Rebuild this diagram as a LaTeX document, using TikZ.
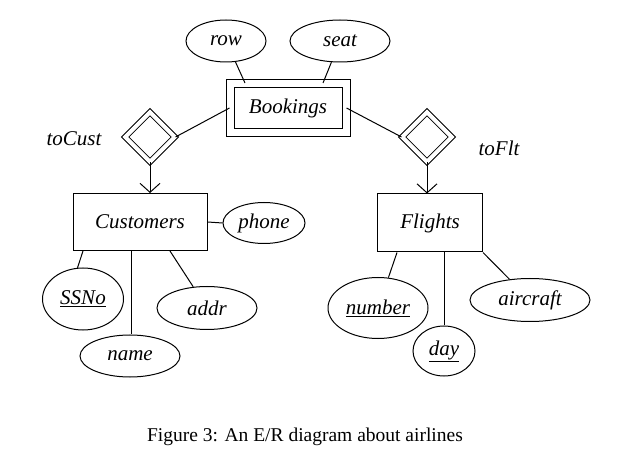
\documentclass[tikz,border=0pt]{standalone}
\usepackage{fontspec}
\setmainfont{Liberation Serif}
\usetikzlibrary{shapes.geometric,arrows.meta}

\tikzset{
  attr/.style={ellipse, draw, line width=1pt, inner sep=0pt},
  entity/.style={rectangle, draw, line width=1pt, minimum width=134pt, minimum height=57pt},
  rel/.style={diamond, draw, double, double distance=4pt, line width=1pt, minimum width=50pt, minimum height=50pt, inner sep=0pt},
  lbl/.style={font=\fontsize{21}{25}\selectfont\itshape},
  isa/.style={-{Straight Barb[length=9pt, width=20pt]}}
}

\begin{document}
\begin{tikzpicture}[x=1pt, y=-1pt, lbl, line width=1pt]
  \useasboundingbox (0,0) rectangle (619,473);
  % Bookings
  \node[rectangle, draw, double, double distance=7pt, minimum width=116pt, minimum height=49pt] (book) at (288,108) {Bookings};
  \node[attr, minimum width=80pt, minimum height=42pt] (row) at (226,41) {row};
  \node[attr, minimum width=100pt, minimum height=42pt] (seat) at (340,41) {seat};
  \draw (row) -- (book.north west -| 245,0);
  \draw (seat) -- (book.north east -| 323,0);
  % Relationships
  \node[rel] (tocust) at (150,137) {};
  \node at (74,139) {toCust};
  \node[rel] (toflt) at (427,137) {};
  \node at (499,148) {toFlt};
  \draw (tocust.east) -- (book.west |- 0,108);
  \draw (toflt.west) -- (book.east |- 0,108);
  % Customers
  \node[entity] (cust) at (140,222) {Customers};
  \node[attr, minimum width=82pt, minimum height=41pt] (phone) at (264,223) {phone};
  \node[attr, minimum width=81pt, minimum height=62pt] (ssno) at (83,299) {\underline{SSNo}};
  \node[attr, minimum width=100pt, minimum height=42pt] (name) at (130,356) {name};
  \node[attr, minimum width=100pt, minimum height=43pt] (addr) at (207,308) {addr};
  \draw (cust.east) -- (phone.west);
  \draw (cust.south -| 83,0) -- (ssno.100);
  \draw (cust.south -| 131,0) -- (name.north -| 131,0);
  \draw (cust.south -| 170,0) -- (addr);
  % Flights
  \node[entity, minimum width=105pt, minimum height=58pt] (flt) at (430,223) {Flights};
  \node[attr, minimum width=100pt, minimum height=61pt] (num) at (378,308) {\underline{number}};
  \node[attr, minimum width=62pt, minimum height=50pt] (day) at (444,351) {\underline{day}};
  \node[attr, minimum width=120pt, minimum height=43pt] (craft) at (530,300) {aircraft};
  \draw (flt.south -| 397,0) -- (num);
  \draw (flt.south -| 444,0) -- (day.north -| 444,0);
  \draw (flt.south east) -- (craft);
  % arrows
  \draw[isa] (tocust.south) -- (cust.north -| tocust.south);
  \draw[isa] (toflt.south) -- (flt.north -| toflt.south);
  % caption
  \node[font=\fontsize{19.5}{23}\selectfont\upshape] (cap) at (305,437) {Figure 3: An E/R diagram about airlines};
\end{tikzpicture}
\end{document}
